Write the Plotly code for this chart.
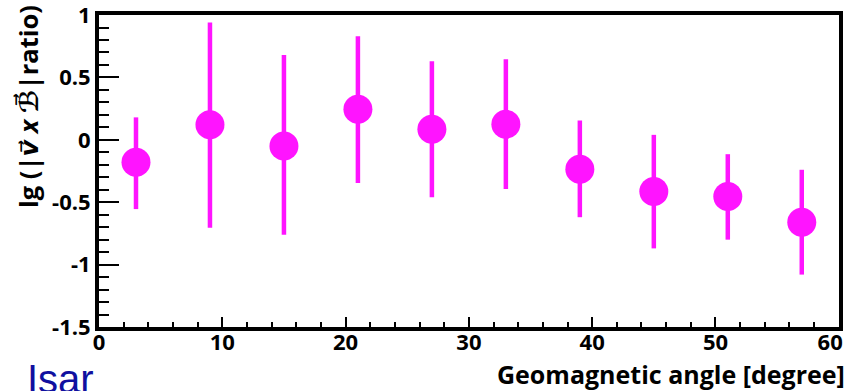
import plotly.graph_objects as go

angle = [3, 9, 15, 21, 27, 33, 39, 45, 51, 57]
lg_ratio = [-0.18, 0.12, -0.05, 0.245, 0.085, 0.125, -0.235, -0.415, -0.455, -0.66]
err_plus = [0.36, 0.82, 0.73, 0.585, 0.545, 0.52, 0.39, 0.455, 0.34, 0.42]
err_minus = [0.375, 0.825, 0.71, 0.59, 0.545, 0.52, 0.385, 0.455, 0.345, 0.42]

x_ticks = [0, 10, 20, 30, 40, 50, 60]
x_ticklabels = ["0", "10", "20", "30", "40", "50", "60\u00a0\u00a0\u00a0"]
y_ticks = [-1.5, -1, -0.5, 0, 0.5, 1]
y_ticklabels = ["-1.5", "-1", "-0.5", "0", "0.5", "1"]

MAG = "#ff14ff"
FONT = "Open Sans, DejaVu Sans, Noto Sans"

fig = go.Figure()
fig.add_trace(go.Scatter(
    x=angle, y=lg_ratio, mode="markers",
    marker=dict(size=29, color=MAG, line=dict(width=0)),
    error_y=dict(type="data", symmetric=False, array=err_plus, arrayminus=err_minus,
                 color=MAG, thickness=4.5, width=0),
    showlegend=False,
))

fig.update_layout(
    width=846, height=391,
    margin=dict(l=99, r=7, t=15, b=64),
    paper_bgcolor="white", plot_bgcolor="white",
    font=dict(family=FONT, color="black"),
    xaxis=dict(range=[0, 60.02], tickvals=x_ticks, ticktext=x_ticklabels, showgrid=False,
               zeroline=False, showline=True, linecolor="black", linewidth=4, mirror=True,
               ticks="inside", ticklen=10, tickwidth=1.5, tickcolor="black",
               minor=dict(ticks="inside", ticklen=5, dtick=2, tickwidth=1.5, tickcolor="black"),
               ticklabeloverflow="allow", ticklabelstandoff=-7, automargin=False,
               tickfont=dict(size=22, family=FONT, weight="bold")),
    yaxis=dict(range=[-1.5, 1.0005], tickvals=y_ticks, ticktext=y_ticklabels, showgrid=False,
               zeroline=False, showline=True, linecolor="black", linewidth=4, mirror=True,
               ticks="inside", ticklen=20, tickwidth=1.5, tickcolor="black",
               minor=dict(ticks="inside", ticklen=10, dtick=0.1, tickwidth=1.5, tickcolor="black"),
               ticklabeloverflow="allow", automargin=False,
               tickfont=dict(size=22, family=FONT, weight="bold")),
    annotations=[
        dict(text="<b>Geomagnetic angle [degree]</b>", xref="paper", yref="paper",
             x=1.0, y=-0.10, xanchor="right", yanchor="top", showarrow=False,
             xshift=8, yshift=3,
             font=dict(size=25, family=FONT, color="black")),
        dict(text="<b>lg (|<i>v\u20d7</i> <i>x</i> <i>\u212c\u20d7</i>|ratio)</b>", xref="paper", yref="paper",
             x=-0.096, y=1.04, xanchor="center", yanchor="top", textangle=-90, showarrow=False,
             font=dict(size=25.5, family=FONT, color="black")),
        dict(text="Isar", xref="paper", yref="paper", x=-0.10, y=-0.085,
             xanchor="left", yanchor="top", showarrow=False, yshift=-1,
             font=dict(size=40, family="Liberation Sans", color="#1010a0")),
    ],
)

fig.write_html("out.html")
